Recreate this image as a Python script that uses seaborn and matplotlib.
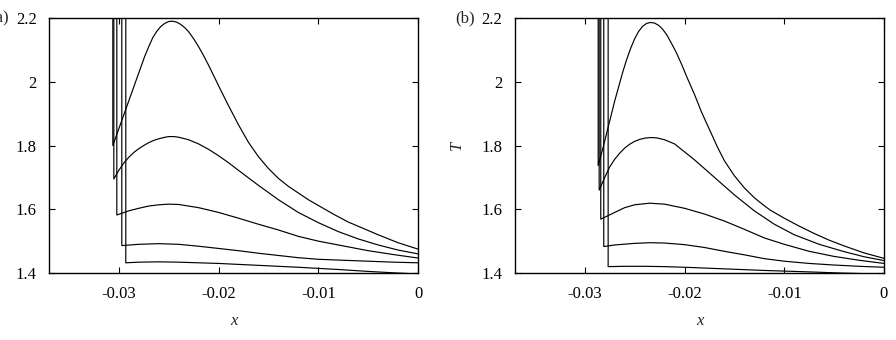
import numpy as np
import pandas as pd
import matplotlib.pyplot as plt
import seaborn as sns

# Panel (a): temperature profiles T(x), each starts with a vertical jump at x0
a1_x = [-0.0306, -0.0302, -0.0298, -0.0294, -0.0290, -0.0286, -0.0282, -0.0278, -0.0274, -0.0270,
        -0.0266, -0.0262, -0.0258, -0.0254, -0.0250, -0.0246, -0.0242, -0.0238, -0.0234, -0.0230,
        -0.0225, -0.0220, -0.0215, -0.0210, -0.0205, -0.0198, -0.0190, -0.0180, -0.0170, -0.0160,
        -0.0150, -0.0140, -0.0130, -0.0120, -0.0110, -0.0100, -0.0085, -0.0070, -0.0055, -0.0040,
        -0.0020, 0.0]
a1_T = [1.800, 1.835, 1.870, 1.905, 1.940, 1.975, 2.010, 2.045, 2.080, 2.110,
        2.138, 2.158, 2.173, 2.183, 2.189, 2.190, 2.187, 2.180, 2.170, 2.157,
        2.135, 2.110, 2.082, 2.052, 2.020, 1.975, 1.925, 1.865, 1.810, 1.765,
        1.728, 1.697, 1.672, 1.651, 1.630, 1.612, 1.585, 1.560, 1.540, 1.520,
        1.495, 1.475]
a2_x = [-0.0305, -0.0300, -0.0295, -0.0290, -0.0285, -0.0280, -0.0275, -0.0270, -0.0265, -0.0260,
        -0.0255, -0.0250, -0.0245, -0.0240, -0.0230, -0.0220, -0.0210, -0.0200, -0.0190, -0.0180,
        -0.0160, -0.0140, -0.0120, -0.0100, -0.0080, -0.0060, -0.0040, -0.0020, 0.0]
a2_T = [1.695, 1.722, 1.745, 1.763, 1.778, 1.790, 1.800, 1.809, 1.816, 1.821,
        1.825, 1.828, 1.828, 1.826, 1.818, 1.805, 1.788, 1.768, 1.746, 1.722,
        1.675, 1.630, 1.590, 1.558, 1.530, 1.507, 1.488, 1.472, 1.460]
a3_x = [-0.0302, -0.0290, -0.0280, -0.0270, -0.0260, -0.0250, -0.0240, -0.0220, -0.0200, -0.0180,
        -0.0160, -0.0140, -0.0120, -0.0100, -0.0075, -0.0050, -0.0025, 0.0]
a3_T = [1.582, 1.595, 1.603, 1.610, 1.614, 1.616, 1.615, 1.605, 1.590, 1.572,
        1.553, 1.535, 1.515, 1.500, 1.485, 1.470, 1.458, 1.447]
a4_x = [-0.0297, -0.0280, -0.0260, -0.0240, -0.0220, -0.0200, -0.0180, -0.0160, -0.0140, -0.0120,
        -0.0100, -0.0075, -0.0050, -0.0025, 0.0]
a4_T = [1.486, 1.490, 1.492, 1.490, 1.484, 1.477, 1.470, 1.462, 1.455, 1.448,
        1.443, 1.440, 1.437, 1.434, 1.432]
a5_x = [-0.0293, -0.0280, -0.0260, -0.0240, -0.0220, -0.0200, -0.0160, -0.0120, -0.0080, -0.0050,
        -0.0021, 0.0]
a5_T = [1.432, 1.434, 1.435, 1.434, 1.432, 1.430, 1.424, 1.418, 1.411, 1.405,
        1.400, 1.397]

# Panel (b)
b1_x = [-0.02866, -0.0282, -0.0278, -0.0274, -0.0270, -0.0266, -0.0262, -0.0258, -0.0254, -0.0250,
        -0.0246, -0.0242, -0.0238, -0.0234, -0.0230, -0.0226, -0.0222, -0.0218, -0.0213, -0.0208,
        -0.0203, -0.0197, -0.0190, -0.0183, -0.0175, -0.0167, -0.0160, -0.0150, -0.0140, -0.0130,
        -0.0120, -0.0114, -0.0100, -0.0085, -0.0070, -0.0055, -0.0040, -0.0020, 0.0]
b1_T = [1.737, 1.790, 1.840, 1.890, 1.940, 1.985, 2.030, 2.070, 2.105, 2.135,
        2.158, 2.174, 2.183, 2.186, 2.184, 2.177, 2.165, 2.148, 2.120, 2.090,
        2.055, 2.010, 1.960, 1.905, 1.850, 1.795, 1.752, 1.705, 1.667, 1.636,
        1.611, 1.597, 1.572, 1.547, 1.524, 1.503, 1.485, 1.463, 1.446]
b2_x = [-0.02856, -0.0280, -0.0275, -0.0270, -0.0265, -0.0260, -0.0255, -0.0250, -0.0245, -0.0240,
        -0.0234, -0.0228, -0.0220, -0.0210, -0.0190, -0.0170, -0.0150, -0.0130, -0.0110, -0.0090,
        -0.0065, -0.0040, -0.0020, 0.0]
b2_T = [1.660, 1.700, 1.733, 1.757, 1.776, 1.792, 1.804, 1.813, 1.819, 1.823,
        1.825, 1.824, 1.818, 1.805, 1.755, 1.700, 1.645, 1.595, 1.553, 1.520,
        1.490, 1.467, 1.451, 1.439]
b3_x = [-0.0284, -0.0270, -0.0260, -0.0250, -0.0235, -0.0220, -0.0200, -0.0180, -0.0160, -0.0140,
        -0.0120, -0.0100, -0.0075, -0.0050, -0.0025, 0.0]
b3_T = [1.569, 1.590, 1.605, 1.614, 1.619, 1.616, 1.603, 1.585, 1.563, 1.537,
        1.510, 1.490, 1.468, 1.452, 1.440, 1.430]
b4_x = [-0.0281, -0.0270, -0.0250, -0.0235, -0.0220, -0.0200, -0.0180, -0.0160, -0.0140, -0.0120,
        -0.0100, -0.0075, -0.0050, -0.0025, 0.0]
b4_T = [1.483, 1.488, 1.493, 1.495, 1.494, 1.489, 1.480, 1.468, 1.457, 1.445,
        1.437, 1.430, 1.425, 1.421, 1.418]
b5_x = [-0.02766, -0.0260, -0.0240, -0.0220, -0.0200, -0.0160, -0.0120, -0.0080, -0.0044, -0.0020]
b5_T = [1.420, 1.421, 1.421, 1.420, 1.418, 1.413, 1.408, 1.404, 1.400, 1.398]

T_TOP = 2.3  # vertical jump comes in from above the frame

panels = {
    "(a)": [(a1_x, a1_T), (a2_x, a2_T), (a3_x, a3_T), (a4_x, a4_T), (a5_x, a5_T)],
    "(b)": [(b1_x, b1_T), (b2_x, b2_T), (b3_x, b3_T), (b4_x, b4_T), (b5_x, b5_T)],
}

sns.set_theme(style="ticks")
plt.rcParams["font.family"] = ["Liberation Serif", "DejaVu Serif"]

fig = plt.figure(figsize=(8.96, 3.4), dpi=100)
lefts = [49 / 896, 515 / 896]
width = 369 / 896
bottom = 1 - 273 / 340
height = 255 / 340

for (label, curves), left in zip(panels.items(), lefts):
    ax = fig.add_axes([left, bottom, width, height])
    rows = []
    for i, (xs, ts) in enumerate(curves):
        rows.append({"curve": i, "order": 0, "x": xs[0], "T": T_TOP})
        for j, (x, t) in enumerate(zip(xs, ts)):
            rows.append({"curve": i, "order": j + 1, "x": x, "T": t})
    df = pd.DataFrame(rows)
    sns.lineplot(data=df, x="x", y="T", units="curve", estimator=None, sort=False,
                 color="black", linewidth=0.85, ax=ax, legend=False)

    ax.set_xlim(-0.037, 0)
    ax.set_ylim(1.4, 2.2)
    ax.set_xticks([-0.03, -0.02, -0.01, 0])
    ax.set_xticklabels(["-0.03", "-0.02", "-0.01", "0"])
    ax.set_yticks([1.4, 1.6, 1.8, 2.0, 2.2])
    ax.set_yticklabels(["1.4", "1.6", "1.8", "2", "2.2"])
    ax.tick_params(direction="in", length=4, width=0.8, top=True, right=True,
                   labelsize=12, colors="black", pad=9)
    for s in ax.spines.values():
        s.set_color("black")
        s.set_linewidth(1.0)

    ax.set_xlabel("x", fontsize=12, fontstyle="italic", labelpad=8)
    ax.set_ylabel("T", fontsize=12, fontstyle="italic")
    ax.yaxis.set_label_coords(-0.135, 0.5)
    ax.text(-0.11, 1.0, label, transform=ax.transAxes, ha="right", va="center", fontsize=12)

fig.savefig("out.png", dpi=100)
